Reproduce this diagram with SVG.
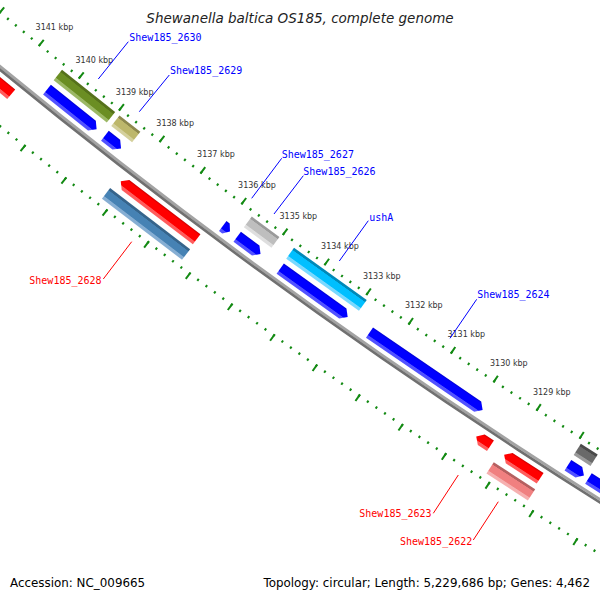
<svg xmlns="http://www.w3.org/2000/svg" width="600" height="600" viewBox="0 0 600 600">
<defs>
<linearGradient id="gBlue" x1="0" y1="0" x2="0" y2="1"><stop offset="0" stop-color="#0000d0"/><stop offset="0.15" stop-color="#0000ff"/><stop offset="0.7" stop-color="#0000ff"/><stop offset="0.76" stop-color="#5252ff"/><stop offset="1" stop-color="#5252ff"/></linearGradient>
<linearGradient id="gRed" x1="0" y1="0" x2="0" y2="1"><stop offset="0" stop-color="#c80000"/><stop offset="0.15" stop-color="#ff0000"/><stop offset="0.7" stop-color="#ff0000"/><stop offset="0.76" stop-color="#ff5c5c"/><stop offset="1" stop-color="#ff5c5c"/></linearGradient>
<linearGradient id="gOlive" x1="0" y1="0" x2="0" y2="1"><stop offset="0.18" stop-color="#55711b"/><stop offset="0.22" stop-color="#6b8e23"/><stop offset="0.72" stop-color="#6b8e23"/><stop offset="0.78" stop-color="#9cb865"/></linearGradient>
<linearGradient id="gKhaki" x1="0" y1="0" x2="0" y2="1"><stop offset="0.18" stop-color="#8d884e"/><stop offset="0.22" stop-color="#bdb76b"/><stop offset="0.72" stop-color="#bdb76b"/><stop offset="0.78" stop-color="#d4d09c"/></linearGradient>
<linearGradient id="gLgray" x1="0" y1="0" x2="0" y2="1"><stop offset="0.18" stop-color="#9a9a9a"/><stop offset="0.22" stop-color="#bebebe"/><stop offset="0.72" stop-color="#bebebe"/><stop offset="0.78" stop-color="#dedede"/></linearGradient>
<linearGradient id="gCyan" x1="0" y1="0" x2="0" y2="1"><stop offset="0.18" stop-color="#0089b8"/><stop offset="0.22" stop-color="#00bfff"/><stop offset="0.72" stop-color="#00bfff"/><stop offset="0.78" stop-color="#7ad9ff"/></linearGradient>
<linearGradient id="gDgray" x1="0" y1="0" x2="0" y2="1"><stop offset="0.18" stop-color="#4a4a4a"/><stop offset="0.22" stop-color="#696969"/><stop offset="0.72" stop-color="#696969"/><stop offset="0.78" stop-color="#9a9a9a"/></linearGradient>
<linearGradient id="gSteel" x1="0" y1="0" x2="0" y2="1"><stop offset="0.18" stop-color="#36648b"/><stop offset="0.22" stop-color="#4682b4"/><stop offset="0.72" stop-color="#4682b4"/><stop offset="0.78" stop-color="#86aed3"/></linearGradient>
<linearGradient id="gPink" x1="0" y1="0" x2="0" y2="1"><stop offset="0.18" stop-color="#b56060"/><stop offset="0.22" stop-color="#f08080"/><stop offset="0.72" stop-color="#f08080"/><stop offset="0.78" stop-color="#f6b0b0"/></linearGradient>
</defs>
<style>
.tl{font-family:"DejaVu Sans",sans-serif;font-size:8px;fill:#333}
.gl{font-family:"DejaVu Sans Mono",monospace;font-size:10px}
.fb{fill:#0000ff}.fr{fill:#ff0000}
.pb{stroke:#0000ff;stroke-width:1;fill:none}
.pr{stroke:#ff0000;stroke-width:1;fill:none}
.tick{fill:none;stroke:#138a13}
.ft{font-family:"DejaVu Sans",sans-serif;font-size:11.9px;fill:#000}
</style>
<rect width="600" height="600" fill="#fff"/>
<g id="title"><text x="300" y="23" text-anchor="middle" style="font-family:'DejaVu Sans',sans-serif;font-style:italic;font-size:13.5px;fill:#222">Shewanella baltica OS185, complete genome</text></g>
<g id="ticks" transform="translate(3766 -4519) rotate(133.72)">
<circle class="tick" r="5892" stroke-width="2.5" stroke-dasharray="2 8.28348" stroke-dashoffset="1"/>
<circle class="tick" r="5889.5" stroke-width="8" stroke-dasharray="2 49.3956" stroke-dashoffset="1"/>
<circle class="tick" r="5980" stroke-width="2.5" stroke-dasharray="2 8.43707" stroke-dashoffset="1"/>
<circle class="tick" r="5982.5" stroke-width="8" stroke-dasharray="2 50.2072" stroke-dashoffset="1"/>
</g>
<g id="backbone" transform="translate(3766 -4519)">
<circle r="5933.6" fill="none" stroke="#a3a3a3" stroke-width="2.8"/>
<circle r="5936.2" fill="none" stroke="#707070" stroke-width="2.6"/>
</g>
<g id="features" transform="translate(3766 -4519)">
<g id="f-blue1" transform="rotate(38.595) translate(0 5922)"><polygon points="-31.75,-6.25 25.75,-6.25 31.75,0 25.75,6.25 -31.75,6.25" fill="url(#gBlue)"/></g>
<g id="f-blue2" transform="rotate(38.087) translate(0 5922)"><polygon points="-10.25,-6.25 4.25,-6.25 10.25,0 4.25,6.25 -10.25,6.25" fill="url(#gBlue)"/></g>
<g id="f-blue3" transform="rotate(36.706) translate(0 5922)"><polygon points="-4.5,-6.25 -0.5,-6.25 4.5,0 -0.5,6.25 -4.5,6.25" fill="url(#gBlue)"/></g>
<g id="f-blue4" transform="rotate(36.435) translate(0 5922)"><polygon points="-14.5,-6.25 8.5,-6.25 14.5,0 8.5,6.25 -14.5,6.25" fill="url(#gBlue)"/></g>
<g id="f-blue5" transform="rotate(35.656) translate(0 5922)"><polygon points="-41.5,-6.25 35.5,-6.25 41.5,0 35.5,6.25 -41.5,6.25" fill="url(#gBlue)"/></g>
<g id="f-blue6" transform="rotate(34.332) translate(0 5922)"><polygon points="-68.5,-6.25 62.5,-6.25 68.5,0 62.5,6.25 -68.5,6.25" fill="url(#gBlue)"/></g>
<g id="f-blue7" transform="rotate(32.594) translate(0 5922)"><polygon points="-9.5,-6.25 3.5,-6.25 9.5,0 3.5,6.25 -9.5,6.25" fill="url(#gBlue)"/></g>
<g id="f-blue8" transform="rotate(31.975) translate(0 5922)"><polygon points="-49,-6.25 43,-6.25 49,0 43,6.25 -49,6.25" fill="url(#gBlue)"/></g>
<g id="f-2630" transform="rotate(38.58) translate(0 5903.7)"><rect x="-34" y="-6.7" width="68" height="13.4" fill="url(#gOlive)"/></g>
<g id="f-2629" transform="rotate(38.068) translate(0 5903.7)"><rect x="-13.25" y="-6.7" width="26.5" height="13.4" fill="url(#gKhaki)"/></g>
<g id="f-2627" transform="rotate(36.412) translate(0 5903.7)"><rect x="-17.15" y="-6.7" width="34.3" height="13.4" fill="url(#gLgray)"/></g>
<g id="f-ushA" transform="rotate(35.634) translate(0 5903.7)"><rect x="-44.75" y="-6.7" width="89.5" height="13.4" fill="url(#gCyan)"/></g>
<g id="f-dgray" transform="rotate(32.595) translate(0 5903.7)"><rect x="-10" y="-6.7" width="20" height="13.4" fill="url(#gDgray)"/></g>
<g id="f-red1" transform="rotate(39.571) translate(0 5948)"><polygon points="-44.5,0 -38.5,-6.25 44.5,-6.25 44.5,6.25 -38.5,6.25" fill="url(#gRed)"/></g>
<g id="f-red2" transform="rotate(37.335) translate(0 5948)"><polygon points="-47.75,0 -41.75,-6.25 47.75,-6.25 47.75,6.25 -41.75,6.25" fill="url(#gRed)"/></g>
<g id="f-2623" transform="rotate(33.497) translate(0 5948)"><polygon points="-8.5,0 -2.5,-6.25 8.5,-6.25 8.5,6.25 -2.5,6.25" fill="url(#gRed)"/></g>
<g id="f-red4" transform="rotate(33.05) translate(0 5948)"><polygon points="-21.5,0 -15.5,-6.25 21.5,-6.25 21.5,6.25 -15.5,6.25" fill="url(#gRed)"/></g>
<g id="f-2628" transform="rotate(37.352) translate(0 5966.5)"><rect x="-50.35" y="-6.7" width="100.7" height="13.4" fill="url(#gSteel)"/></g>
<g id="f-2622" transform="rotate(33.064) translate(0 5966.5)"><rect x="-24.7" y="-6.7" width="49.4" height="13.4" fill="url(#gPink)"/></g>
</g>
<g id="tick-labels" class="tl">
<text x="35.6" y="30.2">3141 kbp</text>
<text x="75.5" y="62.6">3140 kbp</text>
<text x="115.8" y="94.5">3139 kbp</text>
<text x="156.3" y="126.2">3138 kbp</text>
<text x="197.1" y="157.4">3137 kbp</text>
<text x="238.1" y="188.3">3136 kbp</text>
<text x="279.5" y="218.9">3135 kbp</text>
<text x="321.1" y="249.1">3134 kbp</text>
<text x="362.9" y="278.9">3133 kbp</text>
<text x="405" y="308.4">3132 kbp</text>
<text x="447.4" y="337.4">3131 kbp</text>
<text x="490" y="366.2">3130 kbp</text>
<text x="532.9" y="394.5">3129 kbp</text>
</g>
<g id="connectors">
<line class="pb" x1="98.3" y1="79" x2="128.3" y2="41.7"/>
<line class="pb" x1="139.3" y1="111.7" x2="169.3" y2="75"/>
<line class="pb" x1="251.7" y1="198.3" x2="281.7" y2="158.3"/>
<line class="pb" x1="274" y1="214" x2="303.3" y2="175.7"/>
<line class="pb" x1="339.3" y1="261" x2="368.3" y2="220.7"/>
<line class="pb" x1="450" y1="338.3" x2="476.7" y2="299.3"/>
<line class="pr" x1="131.7" y1="241.7" x2="103.3" y2="279"/>
<line class="pr" x1="458.3" y1="475" x2="433.3" y2="513.3"/>
<line class="pr" x1="498.3" y1="501.7" x2="473.3" y2="540"/>
</g>
<g id="gene-labels" class="gl">
<text class="fb" x="129.3" y="41">Shew185_2630</text>
<text class="fb" x="170" y="74">Shew185_2629</text>
<text class="fb" x="281.7" y="158">Shew185_2627</text>
<text class="fb" x="303.3" y="175">Shew185_2626</text>
<text class="fb" x="369.3" y="221">ushA</text>
<text class="fb" x="477.3" y="298">Shew185_2624</text>
<text class="fr" x="29.3" y="284">Shew185_2628</text>
<text class="fr" x="359.3" y="517.3">Shew185_2623</text>
<text class="fr" x="400" y="544.6">Shew185_2622</text>
</g>
<g id="footer">
<text class="ft" x="10" y="587">Accession: NC_009665</text>
<text class="ft" x="590" y="587" text-anchor="end">Topology: circular; Length: 5,229,686 bp; Genes: 4,462</text>
</g>
</svg>
